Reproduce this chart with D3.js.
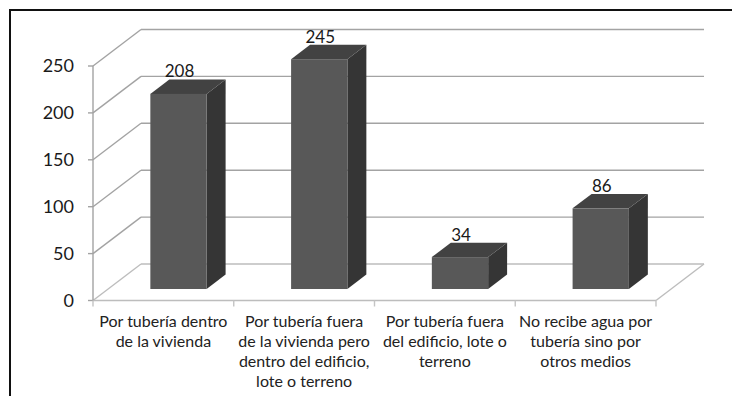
<!DOCTYPE html>
<html><head><meta charset="utf-8">
<script src="https://cdn.jsdelivr.net/npm/d3@7"></script>
<style>html,body{margin:0;padding:0;background:#fff}svg{display:block}</style>
</head><body>
<script>
const categories = [
  ["Por tubería dentro","de la vivienda"],
  ["Por tubería fuera","de la vivienda pero","dentro del edificio,","lote o terreno"],
  ["Por tubería fuera","del edificio, lote o","terreno"],
  ["No recibe agua por","tubería sino por","otros medios"]
];
const values = [208, 245, 34, 86];
const tickValues = [0, 50, 100, 150, 200, 250];

const W = 732, H = 396;
const svg = d3.select("body").append("svg").attr("width", W).attr("height", H);

// frame
svg.append("rect").attr("x",10).attr("y",10).attr("width",900).attr("height",600)
  .attr("fill","none").attr("stroke","#111").attr("stroke-width",2);

const x0 = 93, x1 = 656;
const y = d3.scaleLinear().domain([0,250]).range([300.5, 66]);
const x = d3.scaleBand().domain(d3.range(values.length)).range([x0, x1]).padding(0);
const DX = 48, DY = -36.5;           // wall depth
const fFront = 0.315, fBack = 0.71;  // bar depth fraction

const grid = svg.append("g").attr("stroke","#a3a3a3").attr("stroke-width",1.4).attr("fill","none");
// back wall gridlines
tickValues.forEach(v => {
  grid.append("line").attr("x1", x0+DX).attr("x2", x1+DX)
    .attr("y1", y(v)+DY).attr("y2", y(v)+DY)
    .attr("stroke", v===0 ? "#bdbdbd" : "#a3a3a3");
  // left wall diagonals
  grid.append("line").attr("x1", x0).attr("y1", y(v)).attr("x2", x0+DX).attr("y2", y(v)+DY)
    .attr("stroke", v===0 ? "#bdbdbd" : "#a3a3a3");
});
// floor
grid.append("line").attr("x1", x1).attr("y1", y(0)).attr("x2", x1+DX).attr("y2", y(0)+DY).attr("stroke","#bdbdbd");
grid.append("line").attr("x1", x0).attr("y1", y(0)).attr("x2", x1).attr("y2", y(0)).attr("stroke","#bdbdbd");
// front axis
grid.append("line").attr("x1", x0).attr("y1", y(0)).attr("x2", x0).attr("y2", y(250));
tickValues.forEach(v => grid.append("line").attr("x1", x0-5).attr("x2", x0).attr("y1", y(v)).attr("y2", y(v)));
// category ticks
d3.range(values.length+1).forEach(i => {
  const xx = i < values.length ? x(i) : x1;
  grid.append("line").attr("x1", xx).attr("x2", xx).attr("y1", y(0)).attr("y2", y(0)+6).attr("stroke","#c4c4c4");
});

// bars
const bw = x.bandwidth()*0.4;
const bars = svg.append("g");
values.forEach((v,i) => {
  const ox = DX*fFront, oy = DY*fFront;
  const dx = DX*(fBack-fFront), dy = DY*(fBack-fFront);
  const left = x(i) + x.bandwidth()/2 - bw/2 + ox;
  const right = left + bw;
  const bot = y(0) + oy, top = y(v) + oy;
  // side
  bars.append("path").attr("d", `M${right},${bot}L${right+dx},${bot+dy}L${right+dx},${top+dy}L${right},${top}Z`)
    .attr("fill","#353535");
  // top
  bars.append("path").attr("d", `M${left},${top}L${left+dx},${top+dy}L${right+dx},${top+dy}L${right},${top}Z`)
    .attr("fill","#424242");
  // front
  bars.append("rect").attr("x", left).attr("y", top).attr("width", bw).attr("height", bot-top)
    .attr("fill","#585858");
  // label
  svg.append("text").attr("x", left + bw/2 + 1).attr("y", top + dy - 2)
    .attr("text-anchor","middle").attr("font-family","Lato, sans-serif").attr("font-size",17)
    .attr("fill","#1a1a1a").text(v);
});

// y tick labels
svg.append("g").selectAll("text").data(tickValues).join("text")
  .attr("x", 74).attr("y", d => y(d)+6).attr("text-anchor","end")
  .attr("font-family","Lato, sans-serif").attr("font-size",18).attr("fill","#1a1a1a")
  .text(d => d);

// category labels
categories.forEach((lines,i) => {
  const t = svg.append("text").attr("x", x(i)+x.bandwidth()/2).attr("y", 327)
    .attr("text-anchor","middle").attr("font-family","Lato, sans-serif").attr("font-size",16)
    .attr("fill","#222");
  lines.forEach((l,j) => t.append("tspan").attr("x", x(i)+x.bandwidth()/2).attr("y", 327+j*20).text(l));
});
</script>
</body></html>
